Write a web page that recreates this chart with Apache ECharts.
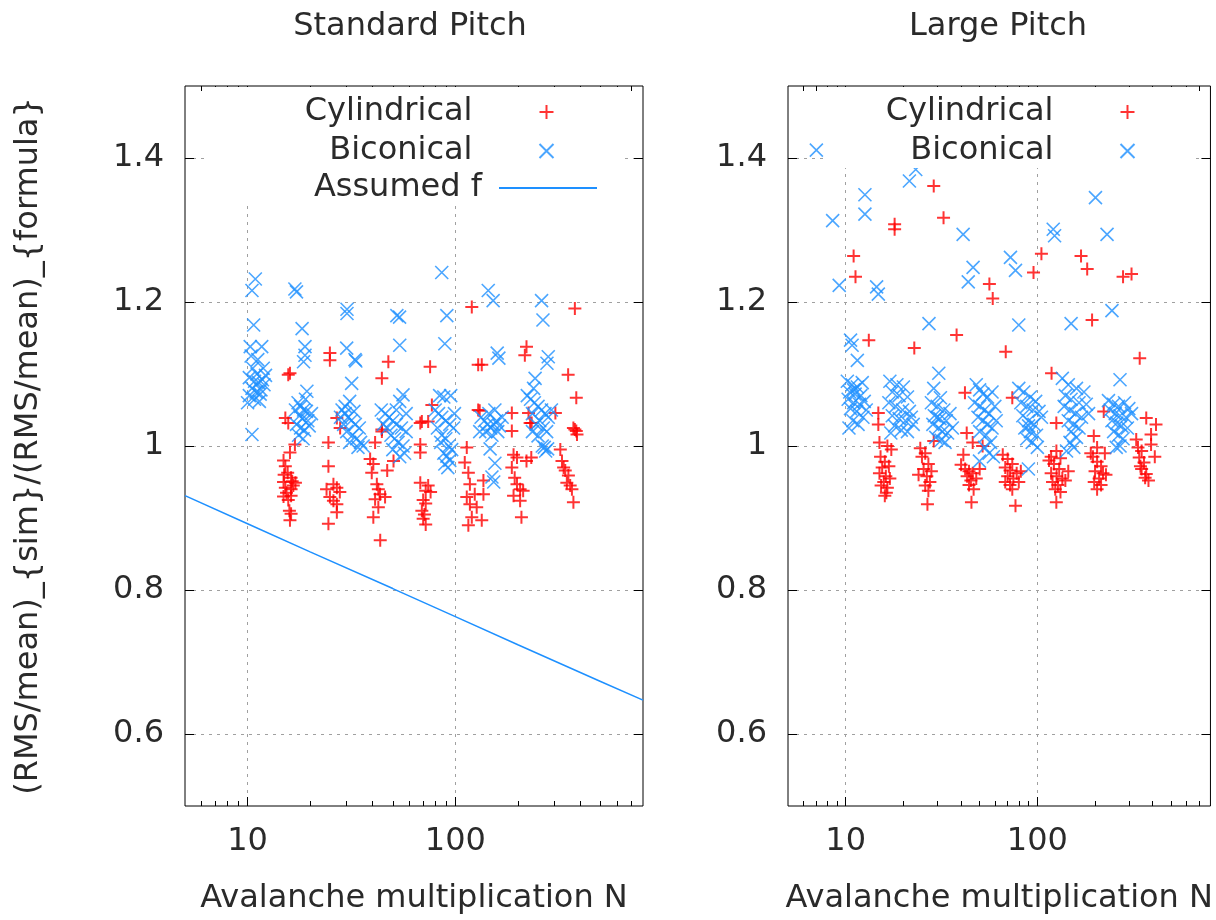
<!DOCTYPE html>
<html>
<head>
<meta charset="utf-8">
<title>RMS ratio vs avalanche multiplication</title>
<script src="https://cdn.jsdelivr.net/npm/echarts@6/dist/echarts.min.js"></script>
<style>
  html, body { margin: 0; padding: 0; background: #fff; }
  #chart { width: 1216px; height: 920px; }
</style>
</head>
<body>
<div id="chart"></div>
<script>
// ---- data: [N, (RMS/mean)_sim / (RMS/mean)_formula] ----
const stdCylindrical = [
  [16.9,1.002],[16.0,0.991],[14.9,0.980],[15.2,0.972],[15.6,0.963],[16.2,0.956],[14.9,0.950],[16.4,0.951],
  [17.0,0.949],[15.2,0.942],[16.2,0.940],[14.9,0.930],[16.2,0.931],[15.7,0.925],[15.9,0.910],[16.2,0.906],
  [16.0,0.897],[16.0,1.101],[15.7,1.099],[15.2,1.039],[15.7,1.032],[15.4,0.935],[16.6,0.945],[15.0,0.960],
  [24.5,1.005],[24.5,0.972],[24.9,1.129],[24.9,1.119],[26.9,1.039],[27.9,1.025],[25.9,0.947],[26.9,0.942],
  [24.0,0.940],[27.8,0.936],[24.9,0.929],[25.9,0.924],[26.9,0.919],[26.9,0.908],[24.5,0.892],
  [44.3,1.020],[41.1,1.005],[38.9,0.982],[40.3,0.975],[39.6,0.963],[41.9,0.947],[42.6,0.940],[43.4,0.933],
  [41.1,0.926],[45.9,0.929],[42.6,0.915],[40.3,0.901],[43.5,0.869],[50.4,0.979],[47.0,0.966],[47.6,1.117],
  [44.3,1.094],[44.3,1.023],
  [67.8,1.032],[67.8,1.002],[67.8,0.991],[67.8,0.949],[72,0.938],[76,0.936],[70,0.925],[72,0.920],
  [69,0.910],[71,0.905],[70,0.899],[72,0.891],[75.6,1.110],[77.1,1.057],[69,1.034],[74,1.034],[74,0.945],
  [120,1.193],[128.8,1.113],[128.8,1.050],[113.5,0.998],[111,0.977],[115.5,0.963],[117.5,0.947],[124,0.933],
  [113.5,0.929],[117.5,0.919],[126.7,0.915],[120,0.901],[115.5,0.890],[134,1.113],[131,1.049],[136.5,0.952],
  [136.5,0.933],[134,0.897],
  [187,1.046],[187,1.021],[225,1.046],[229,1.032],[220,1.138],[216,1.126],[233,1.032],[190.6,0.988],
  [198,0.984],[187,0.970],[193,0.956],[198,0.947],[205,0.940],[190.6,0.931],[212,0.938],[205,0.924],
  [208,0.901],[220,0.979],[232,0.984],
  [376,1.191],[349,1.099],[382,1.067],[303,1.046],[370,1.025],[382,1.021],[376,1.023],[385,1.016],
  [320,0.995],[326,0.979],[332,0.970],[338,0.966],[350,0.959],[344,0.949],[357,0.945],[364,0.940],[370,0.922]
];

const stdBiconical = [
  [10.9,1.232],[10.5,1.216],[10.7,1.168],[10.3,1.138],[11.7,1.138],[10.6,1.108],[11.9,1.108],[10.5,1.016],
  [10.2,1.095],[10.8,1.090],[11.3,1.088],[11.8,1.092],[12.0,1.085],[10.5,1.080],[11.0,1.075],[11.6,1.078],
  [10.2,1.070],[10.8,1.065],[11.4,1.062],[12.2,1.098],[10.0,1.060],[11.1,1.100],[11.5,1.072],[10.4,1.125],[11.2,1.120],
  [16.9,1.218],[17.2,1.214],[18.3,1.163],[18.9,1.138],[18.9,1.126],[18.6,1.117],[19.3,1.076],
  [17.5,1.060],[18.0,1.055],[18.6,1.050],[19.2,1.048],[17.8,1.042],[18.4,1.038],[19.5,1.035],[17.2,1.030],
  [18.0,1.025],[18.8,1.022],[19.8,1.028],[17.6,1.015],[18.5,1.010],[20.3,1.045],[19.0,1.065],[17.0,1.050],
  [30.1,1.190],[30.1,1.184],[30.0,1.136],[32.9,1.120],[33.2,1.118],[31.7,1.087],[31.0,1.062],
  [28.5,1.050],[29.5,1.045],[30.5,1.040],[31.5,1.035],[33.0,1.030],[34.5,1.025],[29.0,1.030],[30.0,1.020],
  [32.0,1.015],[33.5,1.010],[35.0,1.005],[28.0,1.040],[31.0,1.005],[34.0,0.998],[36.0,1.000],[29.5,1.055],[32.5,1.048],
  [52.3,1.181],[53.9,1.179],[54,1.140],[56,1.071],[54,1.062],
  [44,1.050],[46,1.045],[48,1.040],[50,1.035],[52,1.030],[55,1.025],[58,1.020],[47,1.025],[49,1.015],
  [51,1.010],[53,1.005],[56,1.000],[50,0.995],[54,0.985],[57,0.990],[45,1.030],[52,1.050],[58,1.045],
  [86,1.241],[91,1.181],[89,1.142],[84,1.070],[88,1.068],[95,1.070],
  [80,1.050],[83,1.045],[86,1.040],[90,1.035],[94,1.030],[98,1.025],[82,1.025],[86,1.015],[90,1.010],
  [93,1.000],[96,0.995],[88,0.990],[91,0.986],[94,0.980],[89,0.975],[92,0.970],[85,1.005],[99,1.045],
  [144,1.216],[152,1.202],[159,1.129],[162,1.122],[131,1.020],
  [133,1.040],[138,1.035],[143,1.030],[148,1.025],[153,1.030],[158,1.035],[163,1.028],[140,1.020],
  [150,1.015],[160,1.020],[145,1.045],[155,1.050],[147,0.996],[155,0.976],[150,0.957],[153,0.950],[168,1.040],
  [260,1.202],[264,1.175],[280,1.124],[276,1.115],[242,1.094],[238,1.080],
  [222,1.070],[230,1.065],[240,1.060],[250,1.055],[260,1.050],[270,1.045],[280,1.040],[290,1.050],
  [235,1.045],[255,1.035],[245,1.030],[265,1.025],[275,1.020],[235,1.020],[250,1.014],[268,0.998],
  [272,0.993],[278,0.996],[262,1.000]
];

const largeCylindrical = [
  [28.8,1.361],[32.4,1.317],[18.0,1.308],[18.0,1.301],[11.0,1.264],[11.25,1.235],[56.2,1.225],[58.5,1.205],
  [105,1.267],[95.5,1.241],[169,1.264],[182,1.246],[280,1.235],[310,1.239],[193,1.175],[13.2,1.147],
  [22.8,1.136],[37.9,1.154],[41.9,1.074],[68.4,1.131],[118.6,1.101],[342,1.122],[74,1.067],[125.6,1.032],
  [222,1.048],[370,1.039],[416,1.030],[392,1.016],
  [14.8,1.046],[14.8,1.030],[15.0,1.005],[16.5,1.000],[17.3,0.995],[15.2,0.985],[16.0,0.978],[15.5,0.970],
  [16.8,0.972],[15.0,0.962],[16.2,0.958],[15.8,0.950],[17.0,0.955],[15.3,0.945],[16.5,0.942],[16.0,0.931],[16.3,0.935],
  [24.5,0.997],[26,0.990],[25,0.985],[27,0.975],[25.5,0.968],[28,0.965],[26.5,0.958],[27.5,0.950],
  [26,0.945],[27,0.938],[26.7,0.919],[28.8,1.007],[24,0.960],
  [42.8,1.018],[46,1.005],[51.8,1.000],[41.1,0.988],[40,0.974],[42,0.968],[44,0.965],[46,0.962],
  [43,0.958],[45,0.952],[48,0.955],[44,0.946],[46.5,0.940],[45.3,0.922],[50,0.968],
  [66,0.988],[70,0.982],[74,0.975],[68,0.970],[72,0.966],[78,0.962],[70,0.958],[75,0.955],
  [68,0.950],[72,0.946],[80,0.950],[74,0.940],[76.9,0.917],[82,0.965],
  [125.7,0.993],[118,0.985],[132,0.983],[115,0.980],[122,0.975],[130,0.968],[118,0.962],[126,0.958],
  [135,0.955],[120,0.950],[128,0.946],[140,0.952],[124,0.940],[132,0.936],[125.6,0.922],[145,0.965],
  [197,1.014],[205,0.998],[190,0.990],[225,0.990],[195,0.985],[205,0.978],[215,0.972],[200,0.965],
  [220,0.962],[210,0.955],[198,0.950],[215,0.946],[205,0.940],[228,0.960],
  [328,1.009],[335,0.998],[350,0.993],[340,0.984],[360,0.977],[350,0.968],[370,0.961],[365,0.956],
  [380,0.952],[392,1.002],[410,0.985],[345,0.972]
];

const largeBiconical = [
  [7.03,1.411],[23.2,1.384],[21.5,1.368],[12.6,1.349],[12.6,1.322],[8.55,1.313],[41,1.294],[46.2,1.248],
  [43.6,1.228],[9.25,1.223],[14.5,1.221],[14.8,1.211],[27.2,1.170],[201,1.345],[121,1.301],[123,1.292],
  [231,1.294],[72.4,1.262],[76.9,1.244],[245,1.188],[80,1.168],[150,1.170],[10.6,1.147],[10.8,1.140],
  [11.5,1.119],[30.6,1.101],[28.8,1.080],[31.2,1.067],[270,1.092],[49.9,0.979],[89.8,0.968],
  [10.2,1.090],[10.8,1.085],[11.5,1.082],[12.2,1.088],[10.5,1.075],[11.2,1.072],[12.0,1.070],[10.3,1.065],
  [11.0,1.060],[11.8,1.058],[12.5,1.062],[10.6,1.052],[11.4,1.048],[12.3,1.040],[10.9,1.035],[11.6,1.030],
  [10.4,1.025],[12.8,1.050],[11.0,1.078],
  [17,1.090],[18.5,1.085],[20,1.082],[17.5,1.075],[19,1.070],[21,1.068],[16.8,1.060],[18.2,1.055],
  [19.8,1.050],[21.5,1.048],[17.5,1.042],[19,1.038],[20.5,1.035],[22,1.040],[18,1.028],[19.5,1.022],
  [21,1.020],[17.2,1.018],[22.5,1.030],
  [28,1.060],[30,1.055],[32.5,1.050],[35,1.045],[29,1.042],[31,1.038],[33.5,1.035],[28.5,1.030],
  [30.5,1.025],[32,1.020],[34,1.018],[36,1.025],[29.5,1.012],[31.5,1.008],[33,1.005],[30,1.040],
  [48,1.085],[50,1.078],[52,1.072],[55,1.068],[58,1.075],[47,1.060],[50,1.055],[53,1.050],[56,1.045],
  [60,1.055],[49,1.040],[52,1.035],[55,1.030],[58,1.025],[61,1.035],[50,1.020],[54,1.015],[57,1.005],
  [53,0.998],[56,0.990],[59,0.985],
  [80,1.080],[85,1.075],[92,1.068],[98,1.062],[82,1.060],[88,1.055],[95,1.050],[102,1.048],[84,1.042],
  [90,1.035],[96,1.030],[86,1.025],[92,1.020],[99,1.015],[88,1.010],[94,1.005],[100,0.998],[105,1.040],[90,1.028],
  [135,1.094],[145,1.085],[160,1.080],[175,1.075],[140,1.070],[150,1.065],[165,1.060],[180,1.058],
  [138,1.055],[148,1.050],[158,1.045],[170,1.040],[185,1.045],[145,1.035],[155,1.030],[165,1.025],
  [150,1.020],[160,1.012],[148,1.005],[155,0.998],[142,0.993],
  [235,1.063],[250,1.058],[265,1.055],[285,1.060],[300,1.052],[240,1.050],[255,1.045],[270,1.042],
  [290,1.040],[310,1.045],[245,1.035],[260,1.032],[275,1.028],[295,1.025],[250,1.020],[265,1.015],
  [280,1.010],[270,1.000],[258,0.998]
];

// assumed f
const assumedF = [[5,0.931],[10,0.892],[20,0.853],[50,0.802],[100,0.763],[200,0.724],[500,0.673],[800,0.647]];

// tick values
const xMajorTicks = [10, 100];
const xMinorTicks = [6, 7, 8, 9, 20, 30, 40, 50, 60, 70, 80, 90, 200, 300, 400, 500, 600, 700];
const yTicks = [0.6, 0.8, 1, 1.2, 1.4];

const FONT = "DejaVu Sans";
const FS = 32;
const TXT = "#2a2a2a";
const RED = "#ff0000";
const BLUE = "#1e90ff";
const PLUS = "path://M0,5L10,5M5,0L5,10";
const CROSS = "path://M0,0L10,10M0,10L10,0";
const gridDash = { color: "#a0a0a0", width: 1, type: [3, 5] };

function xAxesFor(grid) {
  const base = {
    type: "log", logBase: 10, min: 5, max: 800, gridIndex: grid,
    axisLine: { show: false, onZero: false },
  };
  const tick = (vals, len) => ({ show: true, inside: true, length: len, customValues: vals, lineStyle: { color: "#000", width: 1 } });
  return [
    {
      ...base, position: "bottom",
      name: "Avalanche multiplication N", nameLocation: "middle", nameGap: 77,
      nameTextStyle: { fontFamily: FONT, fontSize: FS, color: TXT },
      axisTick: tick(xMajorTicks, 9),
      axisLabel: { customValues: xMajorTicks, margin: 20, fontFamily: FONT, fontSize: FS, color: TXT },
      splitLine: { show: true, lineStyle: gridDash },
    },
    { ...base, position: "bottom", axisTick: tick(xMinorTicks, 5), axisLabel: { show: false }, splitLine: { show: false } },
    { ...base, position: "top", axisTick: tick(xMajorTicks, 9), axisLabel: { show: false }, splitLine: { show: false } },
    { ...base, position: "top", axisTick: tick(xMinorTicks, 5), axisLabel: { show: false }, splitLine: { show: false } },
  ];
}

function yAxesFor(grid, withName) {
  const base = { type: "value", min: 0.5, max: 1.5, gridIndex: grid, axisLine: { show: false, onZero: false } };
  const tick = { show: true, inside: true, length: 9, customValues: yTicks, lineStyle: { color: "#000", width: 1 } };
  const left = {
    ...base, position: "left",
    axisTick: tick,
    axisLabel: { customValues: yTicks, margin: 21, fontFamily: FONT, fontSize: FS, color: TXT },
    splitLine: { show: true, lineStyle: gridDash },
  };
  if (withName) {
    left.name = "(RMS/mean)_{sim}/(RMS/mean)_{formula}";
    left.nameLocation = "middle";
    left.nameGap = 140;
    left.nameTextStyle = { fontFamily: FONT, fontSize: FS, color: TXT };
  }
  return [left, { ...base, position: "right", axisTick: tick, axisLabel: { show: false }, splitLine: { show: false } }];
}

function scatter(name, data, xi, yi, symbol, color, width) {
  return {
    name, type: "scatter", data, xAxisIndex: xi, yAxisIndex: yi,
    symbol, symbolSize: 13, symbolKeepAspect: true,
    itemStyle: { color: "none", borderColor: color, borderWidth: width },
    emphasis: { disabled: true },
  };
}

// one legend component per key line, so text is right-justified against the sample
function keyEntry(name, right, top, w, gap, extra) {
  return Object.assign({
    data: [name], right, top, orient: "horizontal", align: "right",
    padding: 0, itemWidth: w, itemHeight: 14, selectedMode: false,
    textStyle: { fontFamily: FONT, fontSize: FS, color: TXT, padding: [0, gap, 0, 0] },
  }, extra || {});
}

const chart = echarts.init(document.getElementById("chart"), null, { renderer: "canvas" });
chart.setOption({
  animation: false,
  backgroundColor: "#fff",
  textStyle: { fontFamily: FONT },
  grid: [
    { left: 185, top: 86, width: 458, height: 724, show: true, borderColor: "#000", borderWidth: 1, backgroundColor: "transparent" },
    { left: 788, top: 86, width: 431, height: 724, show: true, borderColor: "#000", borderWidth: 1, backgroundColor: "transparent" },
  ],
  xAxis: [...xAxesFor(0), ...xAxesFor(1)],
  yAxis: [...yAxesFor(0, true), ...yAxesFor(1, false)],
  legend: [
    keyEntry("Cylindrical", 660, 96, 14, 62),
    keyEntry("Biconical", 660, 135, 14, 62),
    keyEntry("Assumed f", 618, 172, 98, 12, { itemStyle: { opacity: 0 } }),
    keyEntry("Cylindrical", 79, 96, 14, 62),
    keyEntry("Biconical", 79, 135, 14, 62),
  ],
  graphic: [
    { type: "rect", z: 3, shape: { x: 205, y: 87, width: 415, height: 118 }, style: { fill: "#fff" } },
    { type: "rect", z: 3, shape: { x: 824, y: 87, width: 371, height: 81 }, style: { fill: "#fff" } },
    { type: "text", x: 410, y: 27, style: { text: "Standard Pitch", font: FS + "px 'DejaVu Sans'", fill: TXT, align: "center", verticalAlign: "middle" } },
    { type: "text", x: 998, y: 27, style: { text: "Large Pitch", font: FS + "px 'DejaVu Sans'", fill: TXT, align: "center", verticalAlign: "middle" } },
  ],
  series: [
    scatter("Cylindrical", stdCylindrical, 0, 0, PLUS, RED, 2),
    scatter("Biconical", stdBiconical, 0, 0, CROSS, BLUE, 1.6),
    {
      name: "Assumed f", type: "line", data: assumedF, xAxisIndex: 0, yAxisIndex: 0,
      symbol: "none", lineStyle: { color: BLUE, width: 1.5 }, itemStyle: { color: BLUE },
      emphasis: { disabled: true },
    },
    scatter("Cylindrical", largeCylindrical, 4, 2, PLUS, RED, 2),
    scatter("Biconical", largeBiconical, 4, 2, CROSS, BLUE, 1.6),
  ],
});
</script>
</body>
</html>
